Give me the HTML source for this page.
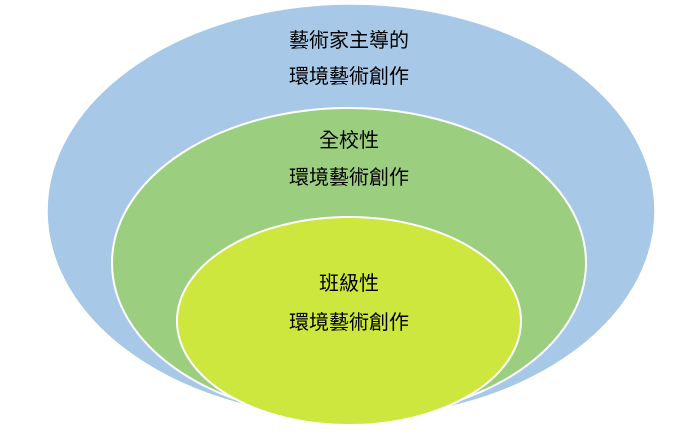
<!DOCTYPE html>
<html><head><meta charset="utf-8"><style>
html,body{margin:0;padding:0;background:#fff}
svg{display:block}
text{font-family:"Liberation Sans","Noto Sans CJK TC",sans-serif;font-size:20px;fill:#000;text-anchor:middle}
</style></head><body>
<svg width="698" height="440" viewBox="0 0 698 440">
<ellipse cx="351" cy="211" rx="304" ry="207" fill="#a7c8e6" stroke="#fff" stroke-width="1.5"/>
<ellipse cx="349" cy="263" rx="237" ry="155" fill="#9bcf7f" stroke="#fff" stroke-width="2"/>
<ellipse cx="349" cy="321" rx="172" ry="104" fill="#cde73f" stroke="#fff" stroke-width="2"/>
<text x="349" y="47">藝術家主導的</text>
<text x="349" y="83">環境藝術創作</text>
<text x="349" y="147">全校性</text>
<text x="349" y="184">環境藝術創作</text>
<text x="349" y="290">班級性</text>
<text x="349" y="329">環境藝術創作</text>
</svg>
</body></html>
